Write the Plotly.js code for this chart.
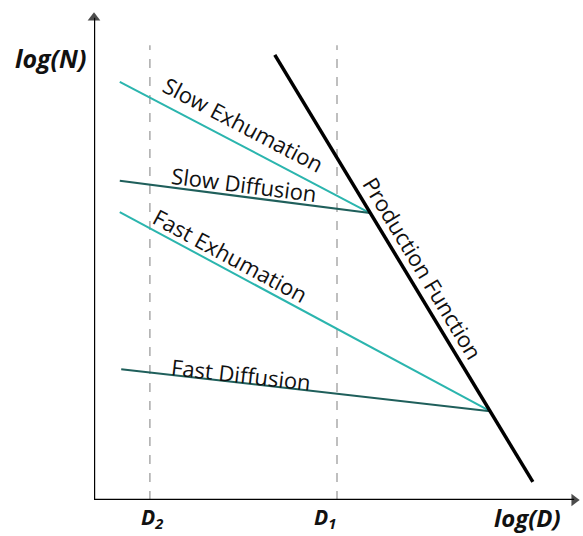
<!DOCTYPE html>
<html><head><meta charset="utf-8">
<script src="https://cdn.plot.ly/plotly-3.0.1.min.js"></script>
<style>html,body{margin:0;padding:0;background:#fff}</style>
</head><body><div id="chart" style="width:583px;height:536px"></div>
<script>
// Schematic values in log units (x = log(D), y = log(N))
const productionX = [3.72, 9.03];
const productionY = [9.12, 0.37];
const slowExhX = [0.53, 5.68];
const slowExhY = [8.57, 5.88];
const slowDiffX = [0.53, 5.68];
const slowDiffY = [6.54, 5.88];
const fastExhX = [0.53, 8.15];
const fastExhY = [5.90, 1.82];
const fastDiffX = [0.56, 8.15];
const fastDiffY = [2.68, 1.82];
const dMarksX = [1.15, 5.0];
const dMarkLabels = ['<b><i>D<sub>2</sub></i></b>', '<b><i>D<sub>1</sub></i></b>'];
const dashTop = 9.32;
const axisEnd = 10;
const lineLabels = ['Slow Exhumation', 'Slow Diffusion', 'Fast Exhumation', 'Fast Diffusion', 'Production Function'];
const labelX = [3.07, 3.09, 2.80, 3.03, 6.77];
const labelY = [7.70, 6.47, 5.02, 2.58, 4.75];
const labelAngle = [27.7, 7.3, 28.3, 6.5, 58.9];

const teal = '#2bb5ae', darkTeal = '#1f5f5b';
const traces = [];
dMarksX.forEach(x => traces.push({x:[x,x], y:[0,dashTop], mode:'lines', line:{color:'#aaaaaa', width:1.5, dash:'dash'}, hoverinfo:'skip'}));
traces.push({x:slowExhX, y:slowExhY, mode:'lines', line:{color:teal, width:2}});
traces.push({x:slowDiffX, y:slowDiffY, mode:'lines', line:{color:darkTeal, width:2}});
traces.push({x:fastExhX, y:fastExhY, mode:'lines', line:{color:teal, width:2}});
traces.push({x:fastDiffX, y:fastDiffY, mode:'lines', line:{color:darkTeal, width:2}});
traces.push({x:productionX, y:productionY, mode:'lines', line:{color:'#000', width:3.5}});
// axes with arrowheads
traces.push({x:[0, axisEnd - 0.12], y:[0, 0], mode:'lines+markers', cliponaxis:false,
  line:{color:'#000', width:2.4}, marker:{symbol:'triangle-right', size:[0, 11], color:'#000', line:{width:0}}});
traces.push({x:[0, 0], y:[0, axisEnd - 0.12], mode:'lines+markers', cliponaxis:false,
  line:{color:'#000', width:2.4}, marker:{symbol:'triangle-up', size:[0, 11], color:'#000', line:{width:0}}});

const font = {family:'Open Sans, sans-serif', size:22, color:'#111'};
const ann = [];
lineLabels.forEach((t,i) => ann.push({x:labelX[i], y:labelY[i], xref:'x', yref:'y', text:t, showarrow:false, textangle:labelAngle[i], font:font}));
const bigFont = {family:'Open Sans, sans-serif', size:25, color:'#111'};
ann.push({x:-0.012, y:0.905, xref:'paper', yref:'paper', xanchor:'right', yanchor:'middle', text:'<b><i>log(N)</i></b>', showarrow:false, font:bigFont});
ann.push({x:0.891, y:-0.036, xref:'paper', yref:'paper', xanchor:'center', yanchor:'middle', text:'<b><i>log(D)</i></b>', showarrow:false, font:{family:'Open Sans, sans-serif', size:24, color:'#111'}});
const dPaperX = [0.092, 0.476];
dPaperX.forEach((x,i) => ann.push({x:x, y:-0.036, xref:'paper', yref:'paper', yanchor:'middle', text:dMarkLabels[i], showarrow:false, font:{family:'Open Sans, sans-serif', size:21, color:'#111'}}));

const layout = {
  width:583, height:536, margin:{l:94, r:3, t:12, b:36},
  paper_bgcolor:'#fff', plot_bgcolor:'#fff', showlegend:false,
  xaxis:{range:[0,10], showgrid:false, zeroline:false, showticklabels:false, showline:false, ticks:''},
  yaxis:{range:[0,10], showgrid:false, zeroline:false, showticklabels:false, showline:false, ticks:''},
  annotations:ann
};
Plotly.newPlot('chart', traces, layout, {staticPlot:true});
</script></body></html>
